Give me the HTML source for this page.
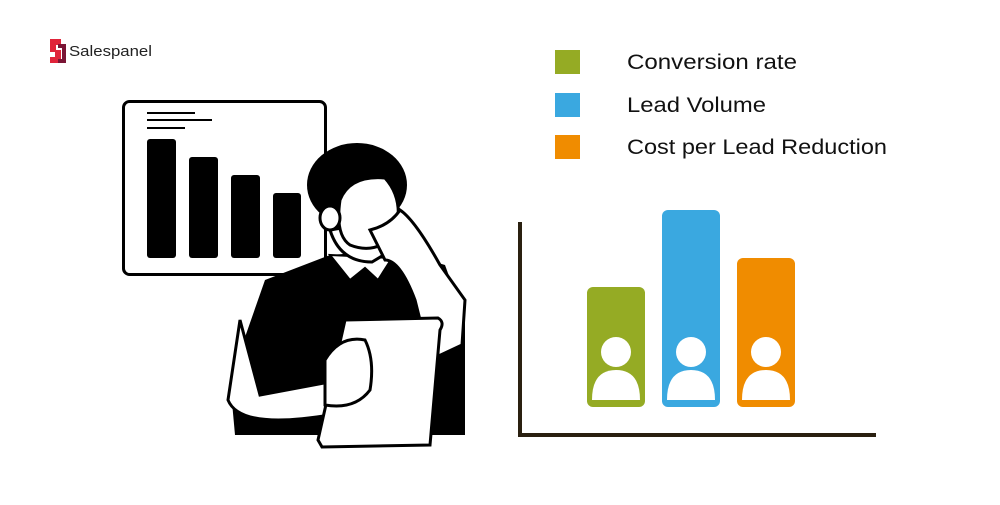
<!DOCTYPE html>
<html><head><style>
body{margin:0;width:1000px;height:500px;background:#fff;overflow:hidden;font-family:"Liberation Sans",sans-serif}
</style></head><body>
<svg width="1000" height="500" viewBox="0 0 1000 500" xmlns="http://www.w3.org/2000/svg">
<!-- logo -->
<path d="M50 39h11v6h-5v5h5v13h-11v-6h5v-5h-5z" fill="#e0243a"/>
<path d="M58 44h8v19h-8v-4h4v-11h-4z" fill="#7a1535"/>
<text x="69" y="56" font-size="15" fill="#222" textLength="83" lengthAdjust="spacingAndGlyphs">Salespanel</text>
<!-- board -->
<rect x="123.5" y="101.5" width="202" height="173" rx="6" fill="#fff" stroke="#000" stroke-width="3"/>
<g stroke="#000" stroke-width="2"><line x1="147" y1="113" x2="195" y2="113"/><line x1="147" y1="120" x2="212" y2="120"/><line x1="147" y1="128" x2="185" y2="128"/></g>
<rect x="147" y="139" width="29" height="119" rx="3"/>
<rect x="189" y="157" width="29" height="101" rx="3"/>
<rect x="231" y="175" width="29" height="83" rx="3"/>
<rect x="273" y="193" width="28" height="65" rx="3"/>
<!-- person -->
<path d="M265 280 L330 255 L395 250 L445 265 L465 320 L465 435 L235 435 L230 380 Z" fill="#000"/>
<path d="M330 255 L350 280 L365 268 L378 280 L392 258 Z" fill="#fff" stroke="#000" stroke-width="2"/>
<path d="M330 230 Q340 262 372 262 L392 250 L388 220 Z" fill="#fff" stroke="#000" stroke-width="3"/>
<ellipse cx="357" cy="185" rx="50" ry="42" fill="#000"/>
<path d="M340 200 Q350 175 385 178 Q405 200 395 235 Q375 255 350 245 Q335 235 340 200Z" fill="#fff" stroke="#000" stroke-width="3"/>
<ellipse cx="330" cy="218" rx="10" ry="12" fill="#fff" stroke="#000" stroke-width="3"/>
<path d="M370 230 Q390 225 400 210 Q415 220 440 265 L465 300 L462 345 L430 360 L415 300 Q400 260 385 260 Z" fill="#fff" stroke="#000" stroke-width="3"/>
<path d="M240 320 L228 400 Q240 430 330 415 L340 380 L260 395 Z" fill="#fff" stroke="#000" stroke-width="3"/>
<path d="M345 320 L438 318 Q445 322 440 330 L430 445 L322 447 L318 440 Z" fill="#fff" stroke="#000" stroke-width="3"/>
<path d="M325 360 Q340 335 365 340 Q375 360 370 390 Q355 410 325 405 Z" fill="#fff" stroke="#000" stroke-width="3"/>
<!-- legend -->
<rect x="555" y="50" width="25" height="24" fill="#95ab24"/>
<rect x="555" y="93" width="25" height="24" fill="#3aa8e0"/>
<rect x="555" y="135" width="25" height="24" fill="#f08c00"/>
<g font-size="21" fill="#111" lengthAdjust="spacingAndGlyphs">
<text x="627" y="69" textLength="170" lengthAdjust="spacingAndGlyphs">Conversion rate</text>
<text x="627" y="112" textLength="139" lengthAdjust="spacingAndGlyphs">Lead Volume</text>
<text x="627" y="154" textLength="260" lengthAdjust="spacingAndGlyphs">Cost per Lead Reduction</text></g>
<!-- chart -->
<rect x="518" y="222" width="4" height="215" fill="#2a2010"/>
<rect x="518" y="433" width="358" height="4" fill="#2a2010"/>
<rect x="587" y="287" width="58" height="120" rx="6" fill="#95ab24"/>
<rect x="662" y="210" width="58" height="197" rx="6" fill="#3aa8e0"/>
<rect x="737" y="258" width="58" height="149" rx="6" fill="#f08c00"/>
<g fill="#fff">
<circle cx="616" cy="352" r="15"/><path d="M592 400 Q592 370 616 370 Q640 370 640 400 Z"/>
<circle cx="691" cy="352" r="15"/><path d="M667 400 Q667 370 691 370 Q715 370 715 400 Z"/>
<circle cx="766" cy="352" r="15"/><path d="M742 400 Q742 370 766 370 Q790 370 790 400 Z"/>
</g>
</svg>
</body></html>
